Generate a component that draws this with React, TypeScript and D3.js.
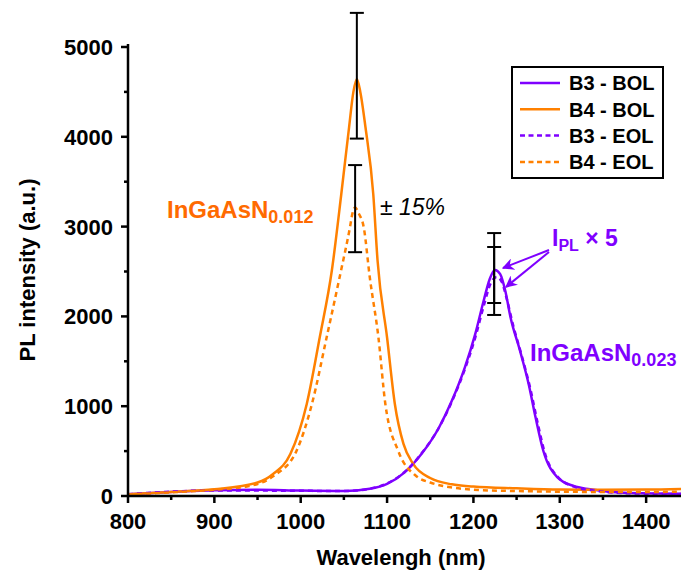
import React from "react";
import * as d3 from "d3";

const b3BolX = [800, 850, 900, 950, 1000, 1050, 1080, 1100, 1120, 1140, 1160, 1175, 1190, 1202, 1212, 1219, 1225, 1231, 1237, 1243, 1254, 1264, 1272, 1281, 1297, 1316, 1335, 1374, 1445];
const b3BolY = [20, 45, 65, 70, 60, 55, 80, 134, 260, 470, 760, 1060, 1430, 1800, 2180, 2420, 2516, 2470, 2280, 1988, 1616, 1245, 873, 501, 210, 111, 75, 37, 26];

const b3EolX = [800, 900, 1000, 1050, 1080, 1100, 1120, 1140, 1160, 1175, 1190, 1202, 1212, 1220, 1227, 1233, 1239, 1246, 1256, 1266, 1274, 1283, 1299, 1318, 1340, 1380, 1445];
const b3EolY = [20, 62, 58, 55, 82, 140, 265, 475, 760, 1050, 1410, 1760, 2120, 2370, 2440, 2380, 2180, 1900, 1560, 1190, 830, 470, 200, 100, 60, 30, 22];

const b4BolX = [800, 850, 900, 950, 968, 988, 1007, 1022, 1036, 1047, 1056, 1061, 1065, 1069, 1075, 1084, 1089, 1100, 1109, 1119, 1130, 1150, 1175, 1200, 1250, 1300, 1350, 1400, 1445];
const b4BolY = [20, 45, 75, 150, 245, 468, 1025, 1765, 2508, 3363, 4106, 4500, 4645, 4500, 4106, 3363, 2620, 1765, 1025, 580, 360, 200, 130, 105, 85, 72, 70, 72, 80];

const b4EolX = [800, 850, 900, 940, 968, 995, 1013, 1030, 1045, 1057, 1060, 1063, 1067, 1073, 1080, 1090, 1098, 1113, 1134, 1150, 1175, 1200, 1250, 1300, 1350, 1400, 1445];
const b4EolY = [18, 40, 70, 110, 220, 500, 1025, 1765, 2434, 2991, 3150, 3214, 3150, 2991, 2434, 1765, 1025, 500, 220, 150, 95, 70, 55, 48, 45, 45, 48];

const errX = [1065, 1063, 1224, 1224];
const errCenter = [4680, 3200, 2472, 2461];
const errHalf = [700, 485, 456, 312];

const xTicks = [800, 900, 1000, 1100, 1200, 1300, 1400];
const xMinor = [850, 950, 1050, 1150, 1250, 1350, 1450];
const yTicks = [0, 1000, 2000, 3000, 4000, 5000];
const yMinor = [500, 1500, 2500, 3500, 4500];

const legendLabels = ["B3 - BOL", "B4 - BOL", "B3 - EOL", "B4 - EOL"];

const PURPLE = "#7f00ff";
const ORANGE = "#ff8000";
const ORANGE_LABEL = "#ff6a00";
const FONT = "'Liberation Sans', Arial, sans-serif";

export default function App() {
  const W = 681, H = 577;
  const x = d3.scaleLinear().domain([800, 1445]).range([128, 685]);
  const y = d3.scaleLinear().domain([0, 5000]).range([496, 47]);

  const mk = (xs: number[], ys: number[]) =>
    d3.line<number>().x((_, i) => x(xs[i])).y((_, i) => y(ys[i])).curve(d3.curveMonotoneX)(xs.map((_, i) => i)) || "";

  const series = [
    { d: mk(b3BolX, b3BolY), c: PURPLE, dash: undefined },
    { d: mk(b4BolX, b4BolY), c: ORANGE, dash: undefined },
    { d: mk(b3EolX, b3EolY), c: PURPLE, dash: "5,4" },
    { d: mk(b4EolX, b4EolY), c: ORANGE, dash: "5,4" },
  ];

  const x0 = x(800), y0 = y(0);

  return (
    <svg width={W} height={H} style={{ position: "absolute", left: 0, top: 0, background: "#fff" }} fontFamily={FONT}>
      <defs>
        <clipPath id="plot">
          <rect x={x0} y={0} width={W - x0} height={y0} />
        </clipPath>
        <marker id="arr" viewBox="0 0 10 10" refX="9" refY="5" markerWidth="6" markerHeight="6" orient="auto">
          <path d="M0,0 L10,5 L0,10 L3,5 z" fill={PURPLE} />
        </marker>
      </defs>

      <g clipPath="url(#plot)">
        {series.map((s, i) => (
          <path key={i} d={s.d} fill="none" stroke={s.c} strokeWidth={2.5} strokeDasharray={s.dash} />
        ))}
      </g>

      {errX.map((ex, i) => {
        const px = x(ex);
        const t = y(errCenter[i] + errHalf[i]);
        const b = y(errCenter[i] - errHalf[i]);
        return (
          <g key={i} stroke="#000" strokeWidth={2}>
            <line x1={px} x2={px} y1={t} y2={b} />
            <line x1={px - 7} x2={px + 7} y1={t} y2={t} />
            <line x1={px - 7} x2={px + 7} y1={b} y2={b} />
          </g>
        );
      })}

      <line x1={x0} x2={x0} y1={y(5000) - 3} y2={y0 + 1} stroke="#000" strokeWidth={2.5} />
      <line x1={x0 - 1} x2={W} y1={y0} y2={y0} stroke="#000" strokeWidth={2.5} />
      {yTicks.map((t) => (
        <g key={"y" + t}>
          <line x1={x0 - 7} x2={x0} y1={y(t)} y2={y(t)} stroke="#000" strokeWidth={2.5} />
          <text x={x0 - 15} y={y(t)} dy="0.36em" textAnchor="end" fontSize={22} fontWeight="bold">{t}</text>
        </g>
      ))}
      {yMinor.map((t) => (
        <line key={"ym" + t} x1={x0 - 4} x2={x0} y1={y(t)} y2={y(t)} stroke="#000" strokeWidth={2.5} />
      ))}
      {xTicks.map((t) => (
        <g key={"x" + t}>
          <line x1={x(t)} x2={x(t)} y1={y0} y2={y0 + 7} stroke="#000" strokeWidth={2.5} />
          <text x={x(t)} y={y0 + 33} textAnchor="middle" fontSize={22} fontWeight="bold">{t}</text>
        </g>
      ))}
      {xMinor.map((t) => (
        <line key={"xm" + t} x1={x(t)} x2={x(t)} y1={y0} y2={y0 + 4} stroke="#000" strokeWidth={2.5} />
      ))}

      <text x={401} y={565} textAnchor="middle" fontSize={22} fontWeight="bold">Wavelengh (nm)</text>
      <text transform={`translate(35,${270}) rotate(-90)`} textAnchor="middle" fontSize={22} fontWeight="bold">PL intensity (a.u.)</text>

      <rect x={512} y={67} width={151} height={111} fill="#fff" stroke="#000" strokeWidth={2} />
      {legendLabels.map((l, i) => {
        const ly = 83 + i * 26.3;
        const s = series[i];
        return (
          <g key={l}>
            <line x1={520} x2={560} y1={ly} y2={ly} stroke={s.c} strokeWidth={2.5} strokeDasharray={s.dash ? "5,3.5" : undefined} />
            <text x={569} y={ly} dy="0.36em" fontSize={20} fontWeight="bold">{l}</text>
          </g>
        );
      })}

      <text x={167} y={218} fontSize={24} fontWeight="bold" fill={ORANGE_LABEL}>
        InGaAsN<tspan fontSize={18} dy={5}>0.012</tspan>
      </text>
      <text x={380} y={215} fontSize={23} fill="#000">
        ± <tspan fontStyle="italic">15%</tspan>
      </text>
      <text x={530} y={361} fontSize={24} fontWeight="bold" fill={PURPLE}>
        InGaAsN<tspan fontSize={18} dy={5}>0.023</tspan>
      </text>
      <text x={552} y={246} fontSize={23} fontWeight="bold" fill={PURPLE}>
        I<tspan fontSize={16} dy={5}>PL</tspan><tspan dy={-5}> × 5</tspan>
      </text>
      <line x1={549} y1={250} x2={503} y2={268} stroke={PURPLE} strokeWidth={2} markerEnd="url(#arr)" />
      <line x1={549} y1={252} x2={506} y2={287} stroke={PURPLE} strokeWidth={2} markerEnd="url(#arr)" />
    </svg>
  );
}
